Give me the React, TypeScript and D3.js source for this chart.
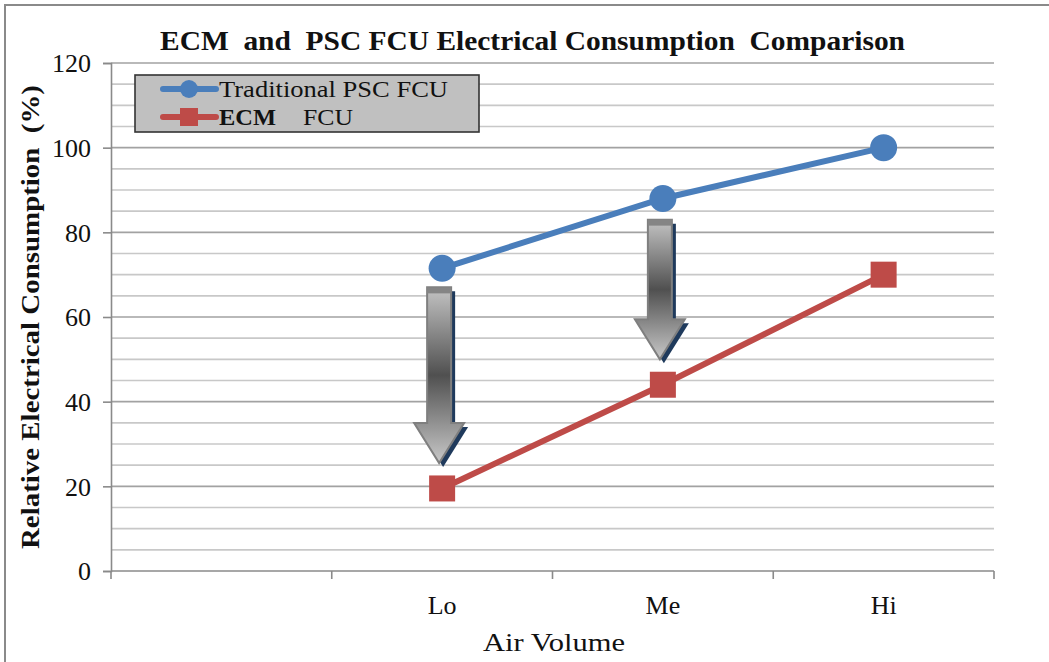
import { useEffect, useRef } from "react";
import * as d3 from "d3";

// chart data
const categories = ["Lo", "Me", "Hi"];
const traditionalPsc = [71.5, 88, 100];
const ecmFcu = [19.5, 44, 70];
const yTicks = [0, 20, 40, 60, 80, 100, 120];
// savings arrows: category, start value, tip value
const arrows = [
  { cat: "Lo", from: 67, to: 25.5 },
  { cat: "Me", from: 83, to: 50 },
];

const FONT = "Liberation Serif, Times New Roman, Times, serif";

export default function App() {
  const svgRef = useRef<SVGSVGElement>(null);

  useEffect(() => {
    if (!svgRef.current) return;
    const width = 1049;
    const height = 662;
    const plot = { left: 111, right: 994, top: 63, bottom: 571 };

    d3.select(svgRef.current).selectAll("*").remove();
    const svg = d3
      .select(svgRef.current)
      .attr("width", width)
      .attr("height", height)
      .style("font-family", FONT);

    // first slot is empty, like the original
    const x = d3
      .scaleBand<string>()
      .domain(["", ...categories])
      .range([plot.left, plot.right]);
    const cx = (c: string) => (x(c) as number) + x.bandwidth() / 2;

    const y = d3.scaleLinear().domain([0, 120]).range([plot.bottom, plot.top]);

    const defs = svg.append("defs");
    const grad = defs
      .append("linearGradient")
      .attr("id", "arrowGrad")
      .attr("x1", 0)
      .attr("y1", 0)
      .attr("x2", 0)
      .attr("y2", 1);
    grad.append("stop").attr("offset", "0%").attr("stop-color", "#c4c4c4");
    grad.append("stop").attr("offset", "50%").attr("stop-color", "#505050");
    grad.append("stop").attr("offset", "100%").attr("stop-color", "#c8c8c8");

    // outer frame
    svg
      .append("rect")
      .attr("x", 5)
      .attr("y", 5)
      .attr("width", width + 10)
      .attr("height", height + 10)
      .attr("fill", "white")
      .attr("stroke", "#8a8a8a")
      .attr("stroke-width", 2);

    // gridlines every 5, darker every 20
    const grid = d3.range(5, 121, 5);
    svg
      .append("g")
      .selectAll("line")
      .data(grid)
      .join("line")
      .attr("x1", plot.left)
      .attr("x2", plot.right)
      .attr("y1", (d) => y(d))
      .attr("y2", (d) => y(d))
      .attr("stroke", (d) => (d % 20 === 0 ? "#a2a2a2" : "#c8c8c8"))
      .attr("stroke-width", 1.6);

    // y axis
    const yAxis = svg
      .append("g")
      .attr("transform", `translate(${plot.left},0)`)
      .call(d3.axisLeft(y).tickValues(yTicks).tickSize(8).tickPadding(12));
    yAxis.attr("font-family", null).attr("font-size", null);
    yAxis.select(".domain").attr("stroke", "#8a8a8a").attr("stroke-width", 1.6);
    yAxis.selectAll(".tick line").attr("stroke", "#8a8a8a").attr("stroke-width", 1.6);
    yAxis
      .selectAll(".tick text")
      .style("font-family", FONT)
      .style("font-size", "26px")
      .attr("dy", "0.34em")
      .attr("fill", "#111");

    // x axis: ticks on band boundaries
    const xLine = svg.append("g");
    xLine
      .append("line")
      .attr("x1", plot.left)
      .attr("x2", plot.right)
      .attr("y1", y(0))
      .attr("y2", y(0))
      .attr("stroke", "#8a8a8a")
      .attr("stroke-width", 1.6);
    const bounds = [...x.domain().map((c) => x(c) as number), plot.right];
    xLine
      .selectAll("line.tick")
      .data(bounds)
      .join("line")
      .attr("class", "tick")
      .attr("x1", (d) => d)
      .attr("x2", (d) => d)
      .attr("y1", y(0))
      .attr("y2", y(0) + 8)
      .attr("stroke", "#8a8a8a")
      .attr("stroke-width", 1.6);
    xLine
      .selectAll("text")
      .data(categories)
      .join("text")
      .attr("x", (d) => cx(d))
      .attr("y", 614)
      .attr("text-anchor", "middle")
      .style("font-size", "26px")
      .attr("fill", "#111")
      .text((d) => d);

    // arrows (behind series markers)
    arrows.forEach((a) => {
      const ax = cx(a.cat) - 3;
      const top = y(a.from);
      const tip = y(a.to);
      const sw = 12;
      const hw = 25;
      const hl = 40;
      const p = `M${ax - sw},${top}L${ax + sw},${top}L${ax + sw},${tip - hl}L${ax + hw},${tip - hl}L${ax},${tip}L${ax - hw},${tip - hl}L${ax - sw},${tip - hl}Z`;
      svg
        .append("path")
        .attr("d", p)
        .attr("transform", "translate(4,4)")
        .attr("fill", "#1f3a5c");
      svg
        .append("path")
        .attr("d", p)
        .attr("fill", "url(#arrowGrad)")
        .attr("stroke", "#7f7f7f")
        .attr("stroke-width", 2);
      svg
        .append("rect")
        .attr("x", ax - sw)
        .attr("y", top)
        .attr("width", sw * 2)
        .attr("height", 6)
        .attr("fill", "#858585");
    });

    const line = d3
      .line<number>()
      .x((_, i) => cx(categories[i]))
      .y((d) => y(d));

    // traditional PSC
    svg
      .append("path")
      .datum(traditionalPsc)
      .attr("fill", "none")
      .attr("stroke", "#4a7ebb")
      .attr("stroke-width", 6)
      .attr("d", line);
    svg
      .append("g")
      .selectAll("circle")
      .data(traditionalPsc)
      .join("circle")
      .attr("cx", (_, i) => cx(categories[i]))
      .attr("cy", (d) => y(d))
      .attr("r", 13.5)
      .attr("fill", "#4a7ebb");

    // ECM
    svg
      .append("path")
      .datum(ecmFcu)
      .attr("fill", "none")
      .attr("stroke", "#be4b48")
      .attr("stroke-width", 6)
      .attr("d", line);
    svg
      .append("g")
      .selectAll("rect")
      .data(ecmFcu)
      .join("rect")
      .attr("x", (_, i) => cx(categories[i]) - 13)
      .attr("y", (d) => y(d) - 13)
      .attr("width", 26)
      .attr("height", 26)
      .attr("fill", "#be4b48");

    // legend
    const lg = svg.append("g");
    lg.append("rect")
      .attr("x", 135)
      .attr("y", 75)
      .attr("width", 344)
      .attr("height", 57)
      .attr("fill", "#c0c0c0")
      .attr("stroke", "#333")
      .attr("stroke-width", 1.6);
    const rows = [
      { color: "#4a7ebb", yy: 89, shape: "circle" },
      { color: "#be4b48", yy: 117, shape: "square" },
    ];
    rows.forEach((r) => {
      lg.append("line")
        .attr("x1", 163)
        .attr("x2", 216)
        .attr("y1", r.yy)
        .attr("y2", r.yy)
        .attr("stroke", r.color)
        .attr("stroke-width", 6)
        .attr("stroke-linecap", "round");
      if (r.shape === "circle") {
        lg.append("circle").attr("cx", 189).attr("cy", r.yy).attr("r", 9).attr("fill", r.color);
      } else {
        lg.append("rect")
          .attr("x", 180)
          .attr("y", r.yy - 9)
          .attr("width", 18)
          .attr("height", 18)
          .attr("fill", r.color);
      }
    });
    lg.append("text")
      .attr("x", 219)
      .attr("y", 97)
      .style("font-size", "24px")
      .attr("textLength", 229)
      .attr("lengthAdjust", "spacingAndGlyphs")
      .attr("fill", "#111")
      .text("Traditional PSC FCU");
    lg.append("text")
      .attr("x", 219)
      .attr("y", 125)
      .style("font-size", "24px")
      .attr("font-weight", "bold")
      .attr("textLength", 57)
      .attr("lengthAdjust", "spacingAndGlyphs")
      .attr("fill", "#111")
      .text("ECM");
    lg.append("text")
      .attr("x", 303)
      .attr("y", 125)
      .style("font-size", "24px")
      .attr("textLength", 50)
      .attr("lengthAdjust", "spacingAndGlyphs")
      .attr("fill", "#111")
      .text("FCU");

    // title
    svg
      .append("text")
      .attr("x", 160)
      .attr("y", 50)
      .style("font-size", "28px")
      .attr("font-weight", "bold")
      .attr("textLength", 745)
      .attr("lengthAdjust", "spacingAndGlyphs")
      .style("white-space", "pre")
      .attr("fill", "#111")
      .text("ECM  and  PSC FCU Electrical Consumption  Comparison");

    // y axis label
    svg
      .append("text")
      .attr("transform", `translate(39,${(85 + 549) / 2}) rotate(-90)`)
      .attr("text-anchor", "middle")
      .style("font-size", "26px")
      .attr("font-weight", "bold")
      .attr("textLength", 464)
      .attr("lengthAdjust", "spacingAndGlyphs")
      .style("white-space", "pre")
      .attr("fill", "#111")
      .text("Relative Electrical Consumption  (%)");

    // x axis label
    svg
      .append("text")
      .attr("x", 554)
      .attr("y", 651)
      .attr("text-anchor", "middle")
      .style("font-size", "26px")
      .attr("textLength", 142)
      .attr("lengthAdjust", "spacingAndGlyphs")
      .attr("fill", "#111")
      .text("Air Volume");
  }, []);

  return (
    <svg
      ref={svgRef}
      style={{ position: "absolute", left: 0, top: 0, background: "white" }}
    ></svg>
  );
}
